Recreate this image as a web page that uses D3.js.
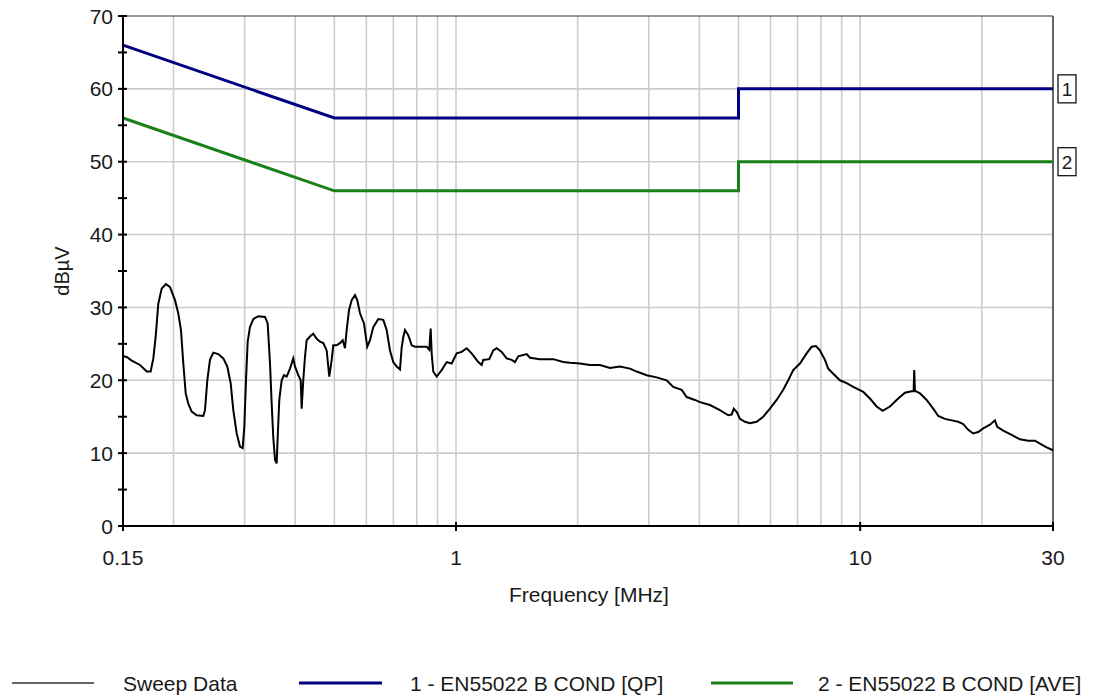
<!DOCTYPE html>
<html>
<head>
<meta charset="utf-8">
<script src="https://cdn.jsdelivr.net/npm/d3@7"></script>
<style>
  html, body { margin: 0; padding: 0; background: #ffffff; }
  svg { display: block; }
  text { font-family: "Liberation Sans", Arial, sans-serif; fill: #1a1a1a; }
</style>
</head>
<body>
<svg id="chart" width="1095" height="696"></svg>
<script>
// ---------- DATA ----------
const sweepFreq = [
  0.1503,0.1532,0.1576,0.1653,0.1717,0.1756,0.1783,0.1807,0.1834,0.1870,0.1916,0.1961,0.2017,0.2055,0.2087,0.2115,0.2144,0.2176,0.2218,0.2283,
  0.2370,0.2393,0.2425,0.2462,0.2509,0.2581,0.2656,0.2717,0.2770,0.2812,0.2867,0.2921,0.2966,0.2994,0.3023,0.3052,0.3092,0.3151,0.3242,0.3368,
  0.3420,0.3466,0.3499,0.3531,0.3566,0.3600,0.3621,0.3654,0.3704,0.3753,0.3811,0.3884,0.3957,0.3996,0.4072,0.4128,0.4151,0.4189,0.4230,0.4271,
  0.4352,0.4435,0.4522,0.4608,0.4695,0.4787,0.4858,0.4925,0.4970,0.5067,0.5163,0.5244,0.5313,0.5364,0.5435,0.5519,0.5624,0.5698,0.5787,0.5920,
  0.6032,0.6126,0.6242,0.6422,0.6608,0.6737,0.6865,0.6995,0.7132,0.7268,0.7338,0.7405,0.7478,0.7620,0.7769,0.7916,0.8462,0.8588,0.8657,0.8706,
  0.8786,0.8958,0.9216,0.9483,0.9757,1.0039,1.0329,1.0627,1.0934,1.1353,1.1575,1.1681,1.2087,1.2366,1.2608,1.2972,1.3347,1.3733,1.3993,1.4259,
  1.4957,1.5241,1.6135,1.7406,1.8426,1.9143,2.0265,2.1453,2.2710,2.4041,2.5450,2.6942,2.7990,2.9631,3.1368,3.3206,3.4478,3.6168,3.7212,3.9015,
  4.0142,4.2495,4.4985,4.7163,4.8086,4.8665,4.9560,5.0415,5.1872,5.3370,5.5446,5.7570,5.9810,6.2138,6.4518,6.6383,6.8301,7.0958,7.3718,7.5848,
  7.7729,7.9520,8.1818,8.3370,8.5779,8.9115,9.2583,9.6131,10.177,10.573,10.984,11.366,11.848,12.309,12.543,12.905,13.408,13.560,13.608,13.660,
  13.740,14.057,14.604,15.163,15.602,16.208,16.839,17.484,17.990,18.509,19.044,19.593,20.160,20.945,21.549,21.834,22.593,23.700,24.848,26.051,
  27.065,27.846,28.929,30.0
];
const sweepDb = [
  23.3,23.2,22.7,22.1,21.2,21.2,23.0,26.0,30.5,32.6,33.2,32.8,31.0,29.2,26.9,22.3,18.2,16.8,15.7,15.2,
  15.1,15.9,20.0,22.8,23.8,23.6,23.0,21.9,19.6,15.9,12.7,10.9,10.7,13.6,20.0,25.3,27.3,28.4,28.8,28.7,
  27.8,22.3,16.8,12.2,9.1,8.6,12.2,17.3,20.0,20.7,20.5,21.6,23.0,21.9,20.7,20.0,16.1,20.0,23.2,25.5,
  26.0,26.4,25.7,25.3,25.1,24.1,20.5,22.8,24.8,24.8,25.1,25.5,24.4,26.9,29.6,31.0,31.7,31.0,29.2,27.8,
  24.6,25.5,27.3,28.4,28.3,26.9,24.1,22.5,21.9,21.5,24.5,25.9,26.9,26.2,24.8,24.6,24.6,24.2,27.1,23.7,
  21.2,20.5,21.4,22.5,22.3,23.7,23.9,24.4,23.7,22.5,22.1,22.8,22.9,24.1,24.4,23.9,23.0,22.8,22.5,23.3,
  23.6,23.1,22.9,22.9,22.5,22.4,22.3,22.1,22.1,21.7,21.9,21.6,21.2,20.7,20.4,20.0,19.1,18.7,17.7,17.3,
  17.0,16.6,15.9,15.2,15.3,16.1,15.6,14.7,14.3,14.1,14.3,15.0,16.1,17.3,18.7,20.0,21.4,22.3,23.7,24.6,
  24.7,24.1,22.8,21.6,20.9,20.0,19.6,19.1,18.4,17.5,16.4,15.8,16.4,17.3,17.7,18.3,18.5,18.5,21.4,18.5,
  18.5,18.2,17.3,16.1,15.1,14.7,14.5,14.3,14.0,13.2,12.7,12.9,13.4,13.9,14.5,13.6,13.1,12.5,11.9,11.7,
  11.7,11.3,10.8,10.4
];
const qpFreq = [0.15, 0.5, 5, 5, 30];
const qpDb   = [66, 56, 56, 60, 60];
const aveFreq = [0.15, 0.5, 5, 5, 30];
const aveDb   = [56, 46, 46, 50, 50];
const yTicks = [0, 10, 20, 30, 40, 50, 60, 70];
const yMinorTicks = [5, 15, 25, 35, 45, 55, 65];
const xTickValues = [0.15, 1, 10, 30];
const xTickLabels = ["0.15", "1", "10", "30"];
const xGridValues = [0.2,0.3,0.4,0.5,0.6,0.7,0.8,0.9,1,2,3,4,5,6,7,8,9,10,20];
const seriesNames = ["Sweep Data", "1 - EN55022 B COND [QP]", "2 - EN55022 B COND [AVE]"];
const limitTags = ["1", "2"];

// ---------- CHART ----------
const svg = d3.select("#chart");
const plot = { left: 123, right: 1053, top: 16, bottom: 526 };
const colors = { sweep: "#000000", qp: "#000080", ave: "#1a801a" };
const FS = 21;

const x = d3.scaleLog().domain([0.15, 30]).range([plot.left, plot.right]);
const y = d3.scaleLinear().domain([0, 70]).range([plot.bottom, plot.top]);

// grid
const grid = svg.append("g").attr("stroke", "#cccccc").attr("stroke-width", 1.6);
grid.selectAll("line.v").data(xGridValues).join("line")
  .attr("x1", d => x(d)).attr("x2", d => x(d))
  .attr("y1", plot.top).attr("y2", plot.bottom);
grid.selectAll("line.h").data(yTicks.filter(v => v > 0 && v < 70)).join("line")
  .attr("x1", plot.left).attr("x2", plot.right)
  .attr("y1", d => y(d)).attr("y2", d => y(d));

// frame top/right
svg.append("line").attr("x1", plot.left).attr("x2", plot.right).attr("y1", plot.top).attr("y2", plot.top)
  .attr("stroke", "#333").attr("stroke-width", 1.2);
svg.append("line").attr("x1", plot.right).attr("x2", plot.right).attr("y1", plot.top).attr("y2", plot.bottom)
  .attr("stroke", "#333").attr("stroke-width", 1.5);

// lines
const line = d3.line().x(d => x(d[0])).y(d => y(d[1]));
const sweep = sweepFreq.map((f, i) => [f, sweepDb[i]]);
const qp = qpFreq.map((f, i) => [f, qpDb[i]]);
const ave = aveFreq.map((f, i) => [f, aveDb[i]]);

svg.append("path").datum(ave).attr("d", line).attr("fill", "none")
  .attr("stroke", colors.ave).attr("stroke-width", 3);
svg.append("path").datum(qp).attr("d", line).attr("fill", "none")
  .attr("stroke", colors.qp).attr("stroke-width", 3);
svg.append("path").datum(sweep).attr("d", line).attr("fill", "none")
  .attr("stroke", colors.sweep).attr("stroke-width", 2).attr("stroke-linejoin", "miter");

// axes
const yAxisG = svg.append("g").attr("transform", `translate(${plot.left},0)`);
yAxisG.append("line").attr("x1", 0).attr("x2", 0).attr("y1", plot.top).attr("y2", plot.bottom + 1)
  .attr("stroke", "#000").attr("stroke-width", 2);
yAxisG.selectAll("line.tk").data(yTicks.concat(yMinorTicks)).join("line")
  .attr("x1", -5).attr("x2", 4).attr("y1", d => y(d)).attr("y2", d => y(d))
  .attr("stroke", "#000").attr("stroke-width", 2);
yAxisG.selectAll("text").data(yTicks).join("text")
  .attr("x", -10).attr("y", d => y(d)).attr("dy", "0.36em")
  .attr("text-anchor", "end").style("font-size", FS + "px")
  .text(d => d);

const xAxisG = svg.append("g").attr("transform", `translate(0,${plot.bottom})`);
xAxisG.append("line").attr("x1", plot.left - 1).attr("x2", plot.right + 1).attr("y1", 0).attr("y2", 0)
  .attr("stroke", "#000").attr("stroke-width", 2);
xAxisG.selectAll("line.tk").data(xTickValues).join("line")
  .attr("x1", d => x(d)).attr("x2", d => x(d)).attr("y1", -4).attr("y2", 5)
  .attr("stroke", "#000").attr("stroke-width", 2);
xAxisG.selectAll("text").data(xTickValues).join("text")
  .attr("x", d => x(d)).attr("y", 31).attr("dy", "0.36em")
  .attr("text-anchor", "middle").style("font-size", FS + "px")
  .text((d, i) => xTickLabels[i]);

// axis titles
svg.append("text").attr("x", 589).attr("y", 594).attr("dy", "0.36em")
  .attr("text-anchor", "middle").style("font-size", FS + "px").text("Frequency [MHz]");
svg.append("text").attr("transform", `translate(69,${y(35)}) rotate(-90)`)
  .attr("text-anchor", "middle").style("font-size", "20px").text("dBµV");

// limit tags
const tagData = [[qpDb[qpDb.length - 1], limitTags[0]], [aveDb[aveDb.length - 1], limitTags[1]]];
tagData.forEach(([v, t]) => {
  const g = svg.append("g").attr("transform", `translate(${plot.right + 5},${y(v)})`);
  g.append("rect").attr("x", 0).attr("y", -14).attr("width", 18).attr("height", 28)
    .attr("fill", "#fff").attr("stroke", "#000").attr("stroke-width", 1.2);
  g.append("text").attr("x", 9).attr("y", 0).attr("dy", "0.36em").attr("text-anchor", "middle")
    .style("font-size", "19px").text(t);
});

// legend
const legendItems = [
  { name: seriesNames[0], color: "#333333", w: 1.4, x0: 12, x1: 94, tx: 123 },
  { name: seriesNames[1], color: colors.qp, w: 3, x0: 299, x1: 382, tx: 410 },
  { name: seriesNames[2], color: colors.ave, w: 3, x0: 711, x1: 793, tx: 818 }
];
const lg = svg.append("g");
legendItems.forEach(it => {
  lg.append("line").attr("x1", it.x0).attr("x2", it.x1).attr("y1", 683).attr("y2", 683)
    .attr("stroke", it.color).attr("stroke-width", it.w);
  lg.append("text").attr("x", it.tx).attr("y", 683).attr("dy", "0.36em")
    .style("font-size", FS + "px").text(it.name);
});
</script>
</body>
</html>
